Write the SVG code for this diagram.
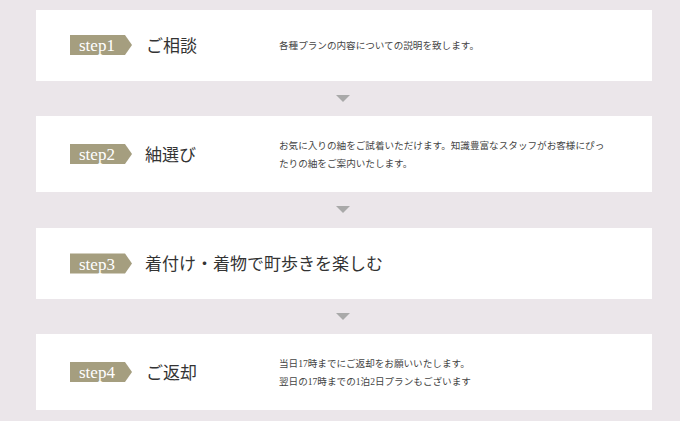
<svg xmlns="http://www.w3.org/2000/svg" width="680" height="421" viewBox="0 0 680 421">
<defs>
<style>
.card{fill:#ffffff}
.badge{fill:#a59e7f}
.step{font-family:"Liberation Serif","Noto Sans CJK JP",serif;font-size:17px;fill:#ffffff}
.title{font-family:"Liberation Serif","Noto Sans CJK JP",serif;font-size:17px;fill:#333333}
.desc{font-family:"Liberation Serif","Noto Sans CJK JP",serif;font-size:9.6px;fill:#444444}
.arrow{fill:#a9a9a9}
</style>
<polygon id="badgeShape" class="badge" points="0,-10 55,-10 62,0 55,10 0,10"/>
</defs>
<rect x="0" y="0" width="680" height="421" fill="#ebe6ea"/>
<g id="connectors">
<polygon class="arrow" points="336,95 350,95 343,102"/>
<polygon class="arrow" points="336,206 350,206 343,213"/>
<polygon class="arrow" points="336,313 350,313 343,320"/>
</g>
<g id="step1">
<rect class="card" x="36" y="10" width="616" height="71"/>
<use href="#badgeShape" x="70" y="45"/>
<text class="step" x="79" y="51">step1</text>
<text class="title" x="146" y="52">ご相談</text>
<text class="desc" x="279" y="49" textLength="200">各種プランの内容についての説明を致します。</text>
</g>
<g id="step2">
<rect class="card" x="36" y="116" width="616" height="76"/>
<use href="#badgeShape" x="70" y="154"/>
<text class="step" x="79" y="160">step2</text>
<text class="title" x="145" y="161">紬選び</text>
<text class="desc" x="279" y="149">お気に入りの紬をご試着いただけます。知識豊富なスタッフがお客様にぴっ</text>
<text class="desc" x="279" y="167">たりの紬をご案内いたします。</text>
</g>
<g id="step3">
<rect class="card" x="36" y="228" width="616" height="71"/>
<use href="#badgeShape" x="70" y="263.5"/>
<text class="step" x="79" y="269.5">step3</text>
<text class="title" x="145" y="270">着付け・着物で町歩きを楽しむ</text>
</g>
<g id="step4">
<rect class="card" x="36" y="334" width="616" height="76"/>
<use href="#badgeShape" x="70" y="372"/>
<text class="step" x="79" y="378">step4</text>
<text class="title" x="146" y="379">ご返却</text>
<text class="desc" x="279" y="367">当日17時までにご返却をお願いいたします。</text>
<text class="desc" x="279" y="385">翌日の17時までの1泊2日プランもございます</text>
</g>
</svg>
